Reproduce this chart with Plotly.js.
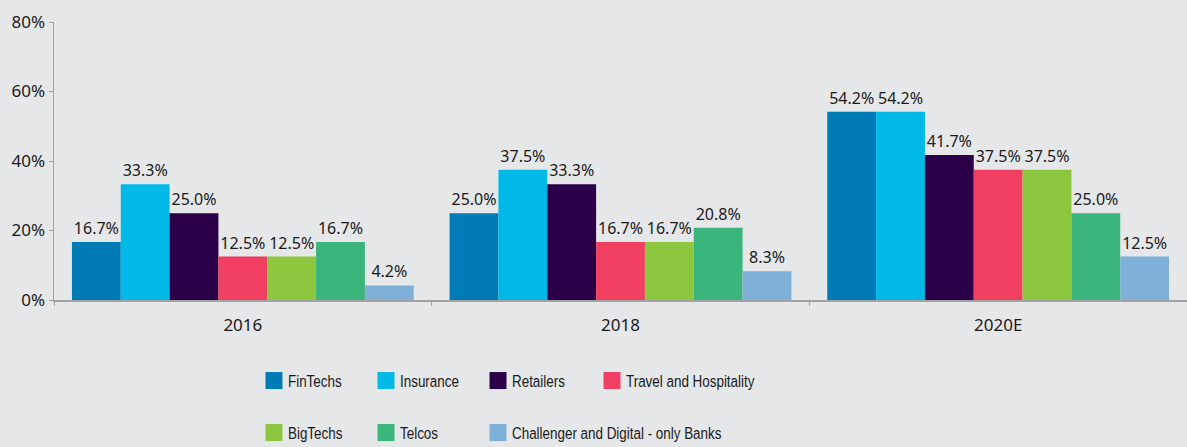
<!DOCTYPE html>
<html>
<head>
<meta charset="utf-8">
<script src="https://cdn.plot.ly/plotly-3.0.1.min.js"></script>
<style>
  html, body { margin: 0; padding: 0; background: #e6e7e9; }
  #chart { width: 1187px; height: 447px; }
  /* condensed look of the reference legend lettering, a bit closer to the swatch */
  #chart text.legendtext,
  #chart text.legend2text,
  #chart text.legend3text,
  #chart text.legend4text {
    transform-box: fill-box;
    transform-origin: 0 50%;
    transform: translateX(-6px) scaleX(0.79);
  }
  /* larger square legend swatches */
  #chart .legendpoints path {
    d: path("M8.5,8.5H-8.5V-8.5H8.5Z");
  }
</style>
</head>
<body>
<div id="chart"></div>
<script>
const years = ["2016", "2018", "2020E"];
const seriesNames = ["FinTechs", "Insurance", "Retailers", "Travel and Hospitality", "BigTechs", "Telcos", "Challenger and Digital - only Banks"];
const fintechs = [16.7, 25.0, 54.2];
const insurance = [33.3, 37.5, 54.2];
const retailers = [25.0, 33.3, 41.7];
const travel = [12.5, 16.7, 37.5];
const bigtechs = [12.5, 16.7, 37.5];
const telcos = [16.7, 20.8, 25.0];
const challenger = [4.2, 8.3, 12.5];
const colors = ["#007bb5", "#00b9e6", "#2c0048", "#f03f61", "#8dc63f", "#3ab67d", "#7fb0d7"];
// which legend box each series goes in (row 1: legend + legend3, row 2: legend2 + legend4)
const legendOf = ["legend", "legend", "legend", "legend3", "legend2", "legend2", "legend4"];

const allValues = [fintechs, insurance, retailers, travel, bigtechs, telcos, challenger];
const FONT = "Noto Sans, Liberation Sans, sans-serif";
const LEGFONT = "Liberation Sans, Arial, sans-serif";

const traces = allValues.map((vals, i) => ({
  type: "bar",
  name: seriesNames[i],
  x: years,
  y: vals,
  marker: { color: colors[i], line: { width: 0 } },
  text: vals.map(v => v.toFixed(1) + "%"),
  textposition: "outside",
  constraintext: "none",
  cliponaxis: false,
  textfont: { family: FONT, size: 16, color: "#1a1a1a" },
  hoverinfo: "skip",
  legend: legendOf[i]
}));

const OFF = 254; // left x of legend columns block
const COL = 112; // column spacing
function leg(col, rowY, ew, dx) {
  return {
    orientation: "h",
    xref: "container",
    yref: "container",
    x: (OFF + col * COL + (dx || 0)) / 1187,
    y: 1 - rowY / 447,
    xanchor: "left",
    yanchor: "middle",
    entrywidth: ew,
    entrywidthmode: "pixels",
    bgcolor: "rgba(0,0,0,0)",
    font: { family: LEGFONT, size: 17, color: "#1a1a1a" },
    traceorder: "normal"
  };
}

const layout = {
  width: 1187,
  height: 447,
  paper_bgcolor: "#e6e7e9",
  plot_bgcolor: "#e6e7e9",
  margin: { l: 54, r: 0, t: 22, b: 147, autoexpand: false },
  barmode: "group",
  bargap: 0.095,
  bargroupgap: 0,
  showlegend: true,
  font: { family: FONT, size: 16, color: "#1a1a1a" },
  xaxis: {
    type: "category",
    showline: true,
    linecolor: "#a3a3a5",
    linewidth: 1.5,
    ticks: "outside",
    tickson: "boundaries",
    ticklen: 4,
    tickwidth: 1,
    tickcolor: "#a3a3a5",
    ticklabelstandoff: 9,
    showgrid: false,
    tickfont: { family: FONT, size: 17, color: "#1a1a1a" },
    fixedrange: true
  },
  yaxis: {
    range: [0, 80],
    dtick: 20,
    ticksuffix: "%",
    showline: true,
    linecolor: "#a3a3a5",
    linewidth: 1.5,
    ticks: "outside",
    ticklen: 4,
    tickwidth: 1,
    tickcolor: "#a3a3a5",
    showgrid: false,
    zeroline: false,
    tickfont: { family: FONT, size: 17, color: "#1a1a1a" },
    fixedrange: true
  },
  legend: leg(0, 381, COL - 45),
  legend3: leg(3, 381, 0, 2),
  legend2: leg(0, 433, COL - 45),
  legend4: leg(2, 433, 0)
};

Plotly.newPlot("chart", traces, layout, { displayModeBar: false, staticPlot: true });
</script>
</body>
</html>
